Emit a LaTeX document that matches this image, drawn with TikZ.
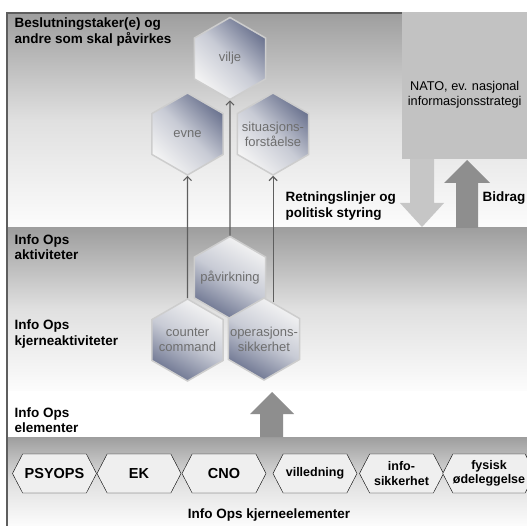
\documentclass[tikz,border=0pt]{standalone}
\usepackage{fontspec}
\setmainfont{Liberation Sans}
\usepackage{tikz}
\usetikzlibrary{shapes.geometric, shapes.symbols, arrows.meta, positioning, calc}

\definecolor{framegray}{HTML}{5E5E5E}
\definecolor{bandtop}{HTML}{9E9E9E}
\definecolor{bandmid}{HTML}{E0E0E0}
\definecolor{bandlow}{HTML}{FCFCFC}
\definecolor{natogray}{HTML}{C2C2C2}
\definecolor{downgray}{HTML}{C6C6C6}
\definecolor{upgray}{HTML}{8E8E8E}
\definecolor{hexdark}{HTML}{6C7490}
\definecolor{hexmid}{HTML}{C8CBD5}
\definecolor{hexlight}{HTML}{F4F4F4}
\definecolor{hexline}{HTML}{CDCDCD}
\definecolor{hextext}{HTML}{6E6E6E}
\definecolor{elfill}{HTML}{EFEFEF}

\tikzset{
  band/.style = {top color = bandtop, bottom color = bandlow, middle color = bandmid},
  hexa/.style = {regular polygon, regular polygon sides = 6, shape border rotate = 30,
    minimum size = 82pt, inner xsep = -20pt, inner ysep = 0pt, draw = hexline, line width = 1.5pt,
    text = hextext, align = center, font = \fontsize{13}{15}\selectfont},
  hexup/.style = {hexa, top color = hexdark, bottom color = hexlight, middle color = hexmid, shading angle = -45},
  hexdown/.style = {hexa, top color = hexlight, bottom color = hexdark, middle color = hexmid, shading angle = -30},
  link/.style = {draw = framegray, line width = 1.1pt, -{Straight Barb[length = 4pt, width = 8pt]}},
  lbl/.style = {anchor = west, align = left, font = \bfseries\fontsize{13.5}{15.5}\selectfont},
  element/.style = {signal, signal to = west and east, signal pointer angle = 125,
    draw, thin, fill = elfill, minimum width = 84pt, minimum height = 39pt, inner sep = 0pt,
    align = center}
}

\begin{document}
\begin{tikzpicture}[x = 1pt, y = -1pt]
\useasboundingbox (0, 0) rectangle (527, 526);
% bands
\shade[band] (7, 13) rectangle (527, 228);
\fill[white] (7, 390) rectangle (527, 437);
\shade[band] (7, 228) rectangle (527, 390);
\shade[band] (7, 437) rectangle (527, 526);
\draw[framegray, line width = 1.5pt] (7, 526) -- (7, 13) -- (527, 13);
% strategi
\node[fill = natogray, minimum width = 125pt, minimum height = 147pt, anchor = north west, inner sep = 0pt] (nato) at (402, 12) {};
\node[align = center, font = \fontsize{12.7}{14.5}\selectfont] (natotxt) at ($(nato.center) + (0, 9)$) {NATO, ev. nasjonal\\informasjonsstrategi};
\fill[downgray] (410, 159) -- (434, 159) -- (434, 203) -- (444, 203) -- (422, 227) -- (400, 203) -- (410, 203) -- cycle;
\fill[upgray] (456, 228) -- (456, 183) -- (444, 183) -- (467, 160) -- (490, 183) -- (478, 183) -- (478, 228) -- cycle;
\fill[upgray] (260, 437) -- (260, 414) -- (250, 414) -- (272, 392) -- (294, 414) -- (283, 414) -- (283, 437) -- cycle;
% labels
\node[lbl] (dm) at (11, 32) {Beslutningstaker(e) og\\andre som skal påvirkes};
\node[lbl] (akt) at (11, 247) {Info Ops\\aktiviteter};
\node[lbl] (kja) at (11, 334) {Info Ops\\kjerneaktiviteter};
\node[lbl] (ele) at (11, 420) {Info Ops\\elementer};
\node[lbl] (ret) at (282, 206) {Retningslinjer og\\politisk styring};
\node[lbl] (bid) at (479, 198) {Bidrag};
\node[font = \bfseries\fontsize{13.5}{15.5}\selectfont] (kje) at (269, 515) {Info Ops kjerneelementer};
% hexagons
\node[hexdown] (pav) at (230, 277.5) {påvirkning};
\node[hexdown] (cc) at (187.5, 340) {counter\\command};
\node[hexdown] (op) at (264, 339) {operasjons-\\sikkerhet};
\node[hexup] (vilje) at (230, 58.5) {vilje};
\node[hexup] (evne) at (187.5, 134) {evne};
\node[hexup] (situ) at (273, 134) {situasjons-\\forståelse};
\draw[link] (pav.north) -- (vilje.south);
\draw[link] (cc.north) -- (evne.south);
\draw[link] (op.76) -- (op.76 |- situ.south);
% kjerneelementer
\foreach \n/\x/\fs/\t in {psy/54.5/14.5/PSYOPS, ek/139/14.5/EK, cno/224/14.5/CNO, vil/315/12.5/villedning, inf/401.5/12.5/{info-\\sikkerhet}, fys/489/12.5/{fysisk\\ødeleggelse}}{
  \node[element, font = \bfseries\fontsize{\fs}{14.5}\selectfont] (\n) at (\x, 473.5) {\t};}
\end{tikzpicture}
\end{document}
